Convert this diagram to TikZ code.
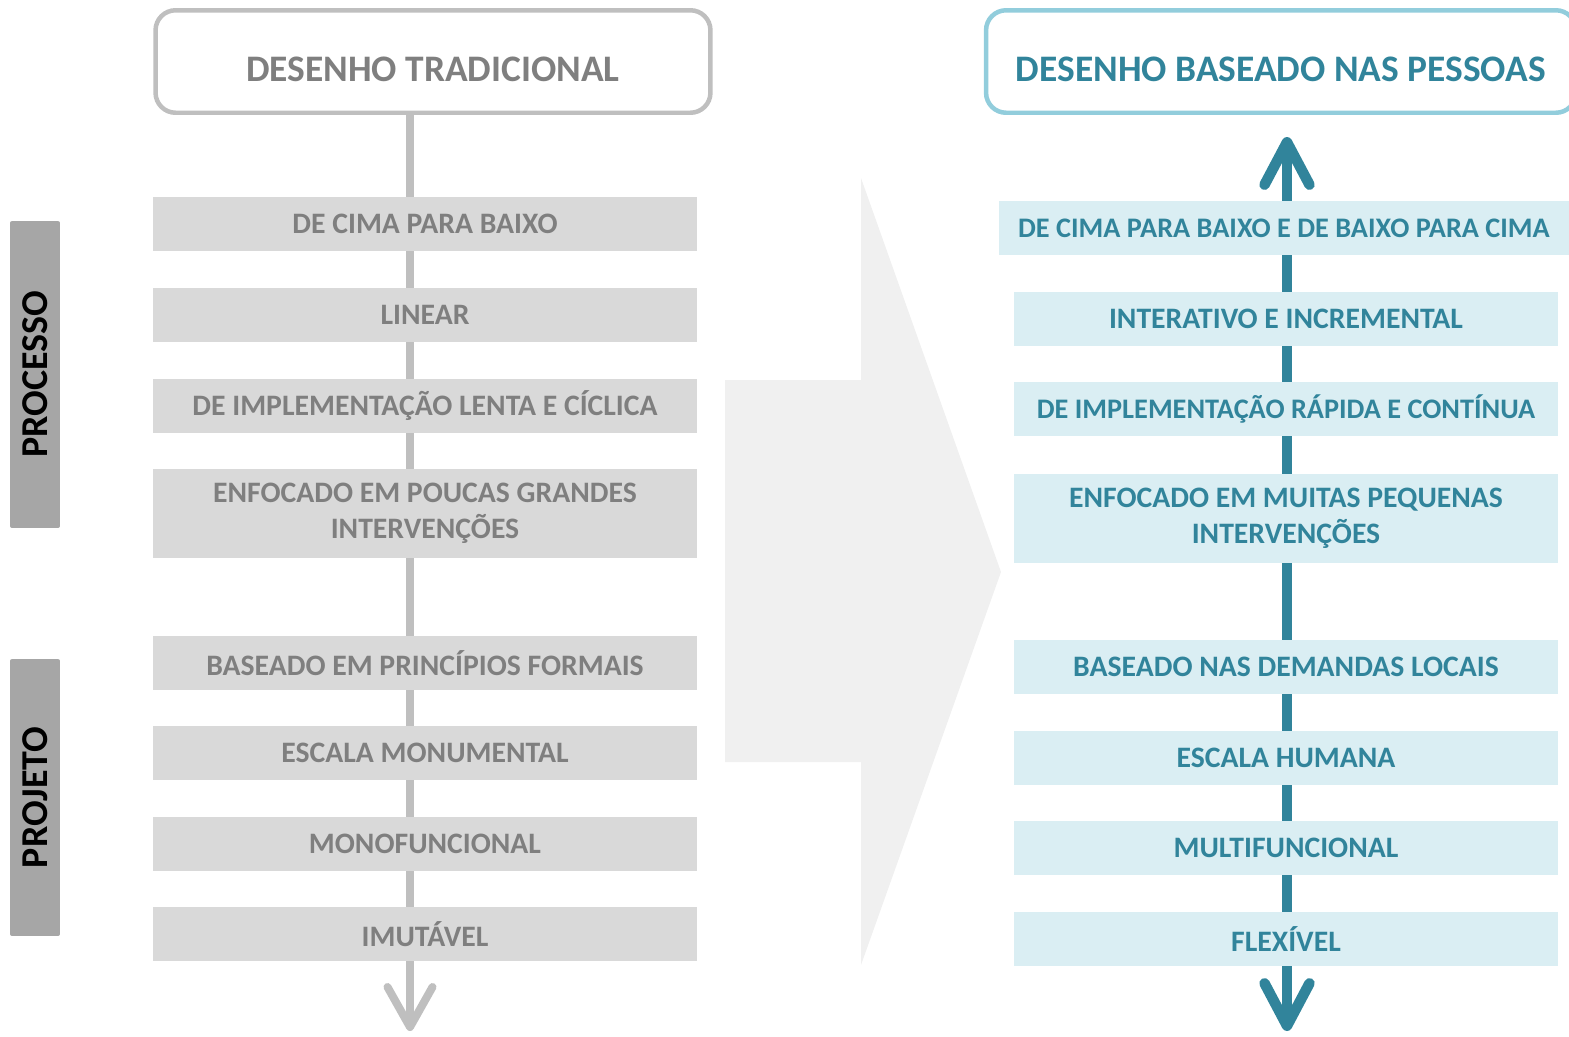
\documentclass[tikz,border=0pt]{standalone}
\usepackage{fontspec}
\setmainfont{Carlito}
\usetikzlibrary{arrows.meta,backgrounds}

\definecolor{txtgray}{HTML}{7F7F7F}
\definecolor{boxgray}{HTML}{D9D9D9}
\definecolor{linegray}{HTML}{BFBFBF}
\definecolor{taggray}{HTML}{A6A6A6}
\definecolor{txtteal}{HTML}{31849B}
\definecolor{boxteal}{HTML}{DAEEF3}
\definecolor{lineteal}{HTML}{92CDDC}
\definecolor{bigarrow}{HTML}{F0F0F0}

\begin{document}
\begin{tikzpicture}[
  x={(0.02cm,0cm)},
  y={(0cm,-0.02cm)},
  line join=round,
  line cap=round,
  title/.style={line width=0.09cm,rounded corners=0.4cm,fill=white,
    minimum height=2.05cm,text height=0.78cm,text depth=0cm,
    font=\bfseries\fontsize{21.3}{25}\selectfont},
  ltitle/.style={title,draw=linegray,text=txtgray,minimum width=11.1cm},
  rtitle/.style={title,draw=lineteal,text=txtteal,minimum width=11.8cm},
  item/.style={minimum height=1.08cm,align=center,
    font=\bfseries\fontsize{16.9}{20.5}\selectfont},
  small/.style={font=\bfseries\fontsize{16.1}{20}\selectfont},
  lbox/.style={item,fill=boxgray,text=txtgray,minimum width=10.88cm},
  rbox/.style={item,fill=boxteal,text=txtteal,minimum width=10.88cm},
  tall/.style={minimum height=1.78cm},
  tag/.style={fill=taggray,rounded corners=0.04cm,rotate=90,
    minimum height=1cm,font=\bfseries\fontsize{21.6}{24}\selectfont},
  lline/.style={draw=linegray,line width=0.16cm,
    -{Straight Barb[length=0.8cm,width=0.9cm,round]}},
  rline/.style={draw=txtteal,line width=0.21cm,
    {Straight Barb[length=0.85cm,width=0.9cm,round]}-{Straight Barb[length=0.85cm,width=0.9cm,round]}}
]
  \useasboundingbox (0,0) rectangle (1569,1036);

  % Broad arrow pointing from one column to the other.
  \fill[bigarrow] (725,380) -- (861,380) -- (861,178) -- (1001,572)
    -- (861,965) -- (861,762) -- (725,762) -- cycle;

  % Side tags.
  \node[tag,minimum width=6.14cm] (processo) at (35,374.5) {PROCESSO};
  \node[tag,minimum width=5.54cm] (projeto) at (35,797.5) {PROJETO};

  % Left column.
  \node[ltitle] (ltitle) at (433,61.5) {DESENHO TRADICIONAL};
  \node[lbox] (l1) at (425,224) {DE CIMA PARA BAIXO};
  \node[lbox] (l2) at (425,315) {LINEAR};
  \node[lbox] (l3) at (425,406) {DE IMPLEMENTAÇÃO LENTA E CÍCLICA};
  \node[lbox,tall] (l4) at (425,513.5) {ENFOCADO EM POUCAS GRANDES\\INTERVENÇÕES};
  \node[lbox] (l5) at (425,663) {BASEADO EM PRINCÍPIOS FORMAIS};
  \node[lbox] (l6) at (425,753) {ESCALA MONUMENTAL};
  \node[lbox] (l7) at (425,844) {MONOFUNCIONAL};
  \node[lbox] (l8) at (425,934) {IMUTÁVEL};

  % Right column.
  \node[rtitle] (rtitle) at (1281,61.5) {DESENHO BASEADO NAS PESSOAS};
  \node[rbox,small,minimum width=11.4cm] (r1) at (1284,228) {DE CIMA PARA BAIXO E DE BAIXO PARA CIMA};
  \node[rbox] (r2) at (1286,319) {INTERATIVO E INCREMENTAL};
  \node[rbox,small] (r3) at (1286,409) {DE IMPLEMENTAÇÃO RÁPIDA E CONTÍNUA};
  \node[rbox,tall] (r4) at (1286,518) {ENFOCADO EM MUITAS PEQUENAS\\INTERVENÇÕES};
  \node[rbox] (r5) at (1286,667) {BASEADO NAS DEMANDAS LOCAIS};
  \node[rbox] (r6) at (1286,758) {ESCALA HUMANA};
  \node[rbox] (r7) at (1286,848) {MULTIFUNCIONAL};
  \node[rbox] (r8) at (1286,939) {FLEXÍVEL};

  % Spines behind the boxes.
  \coordinate (ltip) at (410,1031);
  \coordinate (rtop) at (1287,137);
  \coordinate (rbot) at (1287,1031);
  \begin{scope}[on background layer]
    \draw[lline] (ltitle.south -| ltip) -- (ltip);
    \draw[rline] (rtop) -- (rbot);
  \end{scope}
\end{tikzpicture}
\end{document}
